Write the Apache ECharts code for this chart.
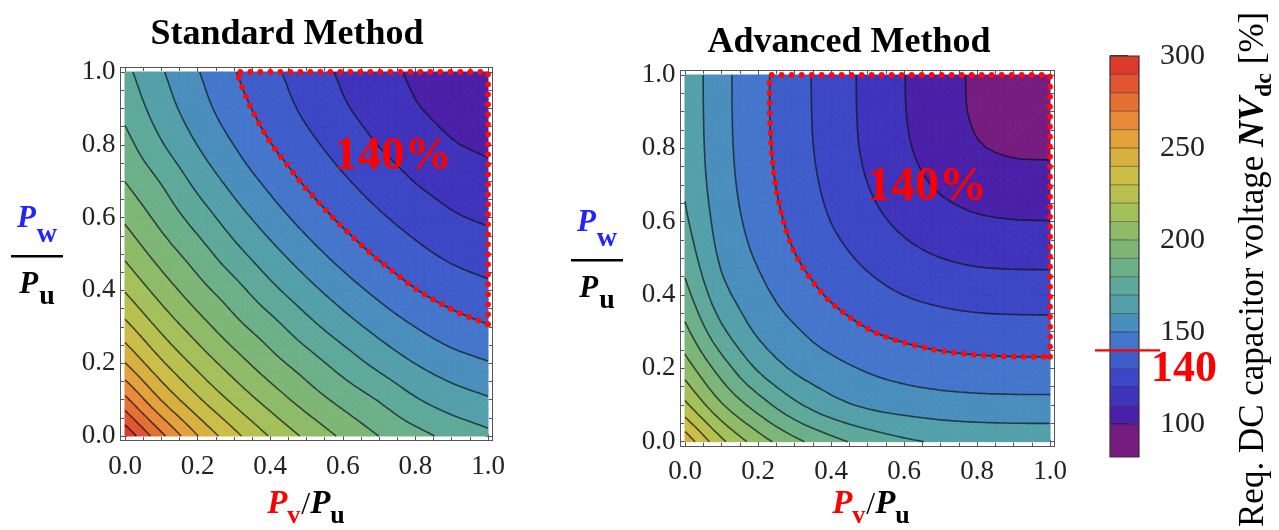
<!DOCTYPE html>
<html>
<head>
<meta charset="utf-8">
<title>Req. DC capacitor voltage</title>
<script src="https://cdn.jsdelivr.net/npm/echarts@6/dist/echarts.min.js"></script>
<style>
  html, body { margin: 0; padding: 0; background: #fff; }
  #chart { width: 1279px; height: 530px; }
</style>
</head>
<body>
<div id="chart"></div>
<script>
// grid of both maps: P_v/P_u along x, P_w/P_u along y
var gridSteps = [0, 0.1, 0.2, 0.3, 0.4, 0.5, 0.6, 0.7, 0.8, 0.9, 1];

// NV_dc [%], one row per P_w/P_u (0 -> 1), one column per P_v/P_u (0 -> 1)
var standardValues = [
  [298.0, 272.7, 250.3, 233.1, 219.3, 208.0, 198.3, 189.9, 183.4, 177.2, 172.5],
  [272.7, 249.5, 231.7, 217.6, 205.8, 195.6, 186.9, 179.3, 170.9, 165.0, 161.0],
  [250.3, 231.7, 217.0, 204.7, 194.0, 184.9, 175.7, 167.1, 159.8, 154.3, 150.6],
  [233.1, 217.6, 204.7, 193.4, 183.9, 173.6, 164.6, 156.7, 149.9, 144.3, 140.6],
  [219.3, 205.8, 194.0, 183.9, 172.9, 163.4, 154.9, 147.3, 140.4, 135.6, 132.4],
  [208.0, 195.6, 184.9, 173.6, 163.4, 154.3, 146.0, 138.5, 132.7, 128.0, 125.1],
  [198.3, 186.9, 175.7, 164.6, 154.9, 146.0, 137.9, 131.4, 125.9, 121.2, 118.5],
  [189.9, 179.3, 167.1, 156.7, 147.3, 138.5, 131.4, 125.2, 119.7, 115.8, 113.1],
  [183.4, 170.9, 159.8, 149.9, 140.4, 132.7, 125.9, 119.7, 115.0, 110.7, 108.4],
  [177.2, 165.0, 154.3, 144.3, 135.6, 128.0, 121.2, 115.8, 110.7, 107.2, 104.7],
  [172.5, 161.0, 150.6, 140.6, 132.4, 125.1, 118.5, 113.1, 108.4, 104.7, 101.0]
];

var advancedValues = [
  [247.0, 222.4, 205.3, 192.8, 183.5, 176.5, 171.7, 169.0, 167.8, 167.3, 167.2],
  [222.4, 201.1, 185.4, 172.3, 163.6, 158.4, 156.0, 154.4, 153.6, 153.3, 153.2],
  [205.3, 185.4, 168.8, 158.5, 153.2, 149.0, 146.2, 144.4, 143.4, 143.0, 143.0],
  [192.8, 172.3, 158.5, 151.3, 145.4, 140.6, 137.5, 135.5, 134.4, 134.0, 133.9],
  [183.5, 163.6, 153.2, 145.4, 138.8, 133.9, 129.9, 127.5, 126.1, 125.6, 125.5],
  [176.5, 158.4, 149.0, 140.6, 133.9, 128.0, 123.3, 120.1, 118.3, 117.7, 117.6],
  [171.7, 156.0, 146.2, 137.5, 129.9, 123.3, 117.9, 113.9, 111.4, 110.4, 110.2],
  [169.0, 154.4, 144.4, 135.5, 127.5, 120.1, 113.9, 108.8, 105.5, 104.1, 103.8],
  [167.8, 153.6, 143.4, 134.4, 126.1, 118.3, 111.4, 105.5, 100.8, 98.8, 98.5],
  [167.3, 153.3, 143.0, 134.0, 125.6, 117.7, 110.4, 104.1, 98.8, 95.7, 95.3],
  [167.2, 153.2, 143.0, 133.9, 125.5, 117.6, 110.2, 103.8, 98.5, 95.3, 94.0]
];

// contour levels, and band colours from the lowest band up
var levels = [100, 110, 120, 130, 140, 150, 160, 170, 180, 190, 200, 210, 220, 230, 240, 250, 260, 270, 280, 290];
var bandColors = [
  '#761c80', '#4a20a8', '#3f33bb', '#3d46c5', '#3e5dcb', '#4476cc', '#4a8ebd',
  '#53a0aa', '#5ea99a', '#6cb089', '#7db677', '#8fbb68', '#a3c05b', '#b8c04f',
  '#cbbd47', '#d8b040', '#e3a23c', '#e88a39', '#e57034', '#e15530', '#dc3a2a'
];
var colorbarRange = [82, 300];
var colorbarTicks = [100, 150, 200, 250, 300];
var limitLevel = 140;

var majorTicks = [0, 0.2, 0.4, 0.6, 0.8, 1];
var minorTicks = [0.05, 0.1, 0.15, 0.25, 0.3, 0.35, 0.45, 0.5, 0.55, 0.65, 0.7, 0.75, 0.85, 0.9, 0.95];

var SERIF = '"Liberation Serif", "DejaVu Serif", serif';
var frameColor = '#555';
var pad = 0.0125;  // plot range padding, like the Mathematica frames
var refine = 4;    // drawing sub-steps per grid step

// ---------- smooth drawing grid (Catmull-Rom between the read values) ----------
function catmull(p0, p1, p2, p3, t) {
  var t2 = t * t, t3 = t2 * t;
  return 0.5 * (2 * p1 + (p2 - p0) * t + (2 * p0 - 5 * p1 + 4 * p2 - p3) * t2 + (3 * p1 - p0 - 3 * p2 + p3) * t3);
}
function resample(arr, f) {
  var n = arr.length, out = [];
  function at(i) {
    if (i < 0) return 2 * arr[0] - arr[1];
    if (i >= n) return 2 * arr[n - 1] - arr[n - 2];
    return arr[i];
  }
  for (var i = 0; i < n - 1; i++) {
    for (var s = 0; s < f; s++) out.push(catmull(at(i - 1), at(i), at(i + 1), at(i + 2), s / f));
  }
  out.push(arr[n - 1]);
  return out;
}
function refineGrid(values, f) {
  var rows = values.map(function (r) { return resample(r, f); });
  var cols = rows[0].map(function (_, c) { return resample(rows.map(function (r) { return r[c]; }), f); });
  return cols[0].map(function (_, r) { return cols.map(function (col) { return col[r]; }); });
}

// ---------- contour geometry ----------
function nudge(z) {
  return levels.indexOf(z) >= 0 ? z + 1e-7 : z;
}
function cross(p, q, L) {
  if (p[2] > q[2]) { var t = p; p = q; q = t; } // identical point from both sides of an edge
  var s = (L - p[2]) / (q[2] - p[2]);
  return [p[0] + s * (q[0] - p[0]), p[1] + s * (q[1] - p[1]), L];
}
function clip(poly, L, keepAbove) {
  var out = [];
  for (var i = 0; i < poly.length; i++) {
    var a = poly[i], b = poly[(i + 1) % poly.length];
    var ina = keepAbove ? a[2] >= L : a[2] <= L;
    var inb = keepAbove ? b[2] >= L : b[2] <= L;
    if (ina) out.push(a);
    if (ina !== inb) out.push(cross(a, b, L));
  }
  return out;
}
function chainSegments(segs) {
  var key = function (p) { return Math.round(p[0] * 1e7) + '_' + Math.round(p[1] * 1e7); };
  var map = {}, used = [], lines = [];
  segs.forEach(function (s, k) {
    [0, 1].forEach(function (e) {
      var kk = key(s[e]);
      (map[kk] = map[kk] || []).push(k);
    });
  });
  function grow(line, atEnd) {
    while (true) {
      var p = atEnd ? line[line.length - 1] : line[0];
      var cand = (map[key(p)] || []).filter(function (k) { return !used[k]; });
      if (!cand.length) return;
      var s = segs[cand[0]];
      used[cand[0]] = true;
      var other = key(s[0]) === key(p) ? s[1] : s[0];
      if (atEnd) line.push(other); else line.unshift(other);
    }
  }
  for (var k = 0; k < segs.length; k++) {
    if (used[k]) continue;
    used[k] = true;
    var line = [segs[k][0], segs[k][1]];
    grow(line, true);
    grow(line, false);
    lines.push(line);
  }
  return lines;
}

function buildContours(values) {
  var z = refineGrid(values, refine);
  var steps = resample(gridSteps, refine);
  var n = steps.length, polys = [];
  var segs = levels.map(function () { return []; });
  var edges = [-Infinity].concat(levels, [Infinity]);
  function node(i, j) { return [steps[i], steps[j], nudge(z[j][i])]; }

  function addTriangle(tri) {
    var zs = tri.map(function (p) { return p[2]; });
    var lo = Math.min.apply(null, zs), hi = Math.max.apply(null, zs);
    for (var k = 0; k < bandColors.length; k++) {
      var bLo = edges[k], bHi = edges[k + 1];
      if (bLo >= hi || bHi <= lo) continue;
      var poly = tri;
      if (bLo > lo) poly = clip(poly, bLo, true);
      if (bHi < hi) poly = clip(poly, bHi, false);
      if (poly.length >= 3) polys.push({ pts: poly, color: bandColors[k] });
    }
    levels.forEach(function (L, li) {
      if (L <= lo || L >= hi) return;
      var pts = [];
      for (var e = 0; e < 3; e++) {
        var p = tri[e], q = tri[(e + 1) % 3];
        if ((p[2] - L) * (q[2] - L) < 0) pts.push(cross(p, q, L));
      }
      if (pts.length === 2) segs[li].push(pts);
    });
  }

  for (var j = 0; j < n - 1; j++) {
    for (var i = 0; i < n - 1; i++) {
      var a = node(i, j), b = node(i + 1, j), c = node(i + 1, j + 1), d = node(i, j + 1);
      var m = [(a[0] + b[0]) / 2, (a[1] + d[1]) / 2, nudge((a[2] + b[2] + c[2] + d[2]) / 4)];
      addTriangle([a, b, m]);
      addTriangle([b, c, m]);
      addTriangle([c, d, m]);
      addTriangle([d, a, m]);
    }
  }

  var lines = [], limit = [];
  levels.forEach(function (L, li) {
    var chains = chainSegments(segs[li]);
    chains.forEach(function (ch) { lines.push(ch); });
    if (L === limitLevel && chains.length) {
      var ch = chains.slice().sort(function (u, v) { return v.length - u.length; })[0];
      if (ch[0][1] < ch[ch.length - 1][1]) ch = ch.slice().reverse(); // start on the top edge
      limit = [ch[ch.length - 1], [1, 1]].concat(ch);
    }
  });
  return { polys: polys, lines: lines, limit: limit };
}

// round dots spaced evenly along a pixel path
function dotsAlong(pts, spacing, r, color) {
  var out = [], carry = 0;
  for (var i = 0; i < pts.length - 1; i++) {
    var a = pts[i], b = pts[i + 1];
    var dx = b[0] - a[0], dy = b[1] - a[1], len = Math.sqrt(dx * dx + dy * dy);
    if (!len) continue;
    var t = carry;
    while (t <= len) {
      out.push({ type: 'circle', shape: { cx: a[0] + dx * t / len, cy: a[1] + dy * t / len, r: r }, style: { fill: color } });
      t += spacing;
    }
    carry = t - len;
  }
  return out;
}

function contourSeries(values, axisIndex, tag) {
  var geo = buildContours(values);
  return {
    type: 'custom',
    xAxisIndex: axisIndex,
    yAxisIndex: axisIndex,
    silent: true,
    data: [[0, 0]],
    renderItem: function (params, api) {
      var toPx = function (p) { return api.coord([p[0], p[1]]); };
      var kids = [];
      geo.polys.forEach(function (p) {
        kids.push({
          type: 'polygon',
          shape: { points: p.pts.map(toPx) },
          style: { fill: p.color, stroke: p.color, lineWidth: 1 }
        });
      });
      geo.lines.forEach(function (ln) {
        kids.push({
          type: 'polyline',
          shape: { points: ln.map(toPx) },
          style: { fill: 'none', stroke: 'rgba(10,15,20,0.68)', lineWidth: 1.6 }
        });
      });
      kids = kids.concat(dotsAlong(geo.limit.map(toPx), 10, 2.9, '#ff0a0a'));
      var c = toPx(tag.pos);
      kids.push({
        type: 'text', x: c[0], y: c[1],
        style: { text: '140%', font: 'bold ' + tag.size + 'px ' + SERIF, fill: '#ff0000', align: 'center', verticalAlign: 'middle' }
      });
      return { type: 'group', children: kids };
    }
  };
}

// ---------- frame axes ----------
function fmt(v) { return v.toFixed(1); }

function frameAxis(gridIndex, position, ticks, len, labels, margin) {
  return {
    type: 'value', gridIndex: gridIndex, position: position,
    min: -pad, max: 1 + pad,
    axisLine: { show: true, onZero: false, lineStyle: { color: frameColor, width: 1 } },
    axisTick: { show: true, inside: true, length: len, customValues: ticks, lineStyle: { color: frameColor, width: 1 } },
    axisLabel: {
      show: labels, customValues: majorTicks, formatter: fmt, margin: margin,
      color: '#222', fontFamily: SERIF, fontSize: 27
    },
    splitLine: { show: false }
  };
}

function frameAxes(gridIndex, lowSide, highSide, margin) {
  return [
    frameAxis(gridIndex, lowSide, majorTicks, 6.5, true, margin),
    frameAxis(gridIndex, lowSide, minorTicks, 3.5, false, margin),
    frameAxis(gridIndex, highSide, majorTicks, 6.5, false, margin),
    frameAxis(gridIndex, highSide, minorTicks, 3.5, false, margin)
  ];
}

// ---------- text helpers ----------
var measureCtx = document.createElement('canvas').getContext('2d');
function runFont(r) {
  return (r.italic ? 'italic ' : '') + (r.bold ? 'bold ' : '') + r.size + 'px ' + SERIF;
}
function runWidth(r) {
  measureCtx.font = runFont(r);
  return measureCtx.measureText(r.text).width;
}
// runs on one baseline, local coords starting at x = 0
function layRuns(runs) {
  var x = 0, out = [];
  runs.forEach(function (r) {
    out.push({
      type: 'text', x: x, y: (r.dy || 0) - 0.34 * r.size,
      style: { text: r.text, font: runFont(r), fill: r.fill || '#000', verticalAlign: 'middle' }
    });
    x += runWidth(r) + (r.gap || 0);
  });
  return { items: out, width: x };
}
function runGroup(runs, cx, baseline) {
  var laid = layRuns(runs);
  return { type: 'group', x: cx - laid.width / 2, y: baseline, children: laid.items };
}

function yFraction(cx, top, colorTop) {
  var num = [
    { text: 'P', size: 31, bold: true, italic: true, fill: colorTop, gap: 1 },
    { text: 'w', size: 28, bold: true, fill: colorTop, dy: 14 }
  ];
  var den = [
    { text: 'P', size: 31, bold: true, italic: true, gap: 1 },
    { text: 'u', size: 28, bold: true, dy: 10 }
  ];
  return [
    runGroup(num, cx, top + 20),
    { type: 'rect', shape: { x: cx - 26, y: top + 45, width: 52, height: 2.6 }, style: { fill: '#000' } },
    runGroup(den, cx, top + 86)
  ];
}

function xRatio(cx, baseline) {
  return runGroup([
    { text: 'P', size: 33, bold: true, italic: true, fill: '#ff0000' },
    { text: 'v', size: 26, bold: true, fill: '#ff0000', dy: 9, gap: 1 },
    { text: '/', size: 32 },
    { text: 'P', size: 33, bold: true, italic: true },
    { text: 'u', size: 26, bold: true, dy: 9 }
  ], cx, baseline);
}

// ---------- layout ----------
function boxGrid(x0, x1, y1, y0) {
  return {
    left: x0 - pad * (x1 - x0), width: (x1 - x0) * (1 + 2 * pad),
    top: y1 - pad * (y0 - y1), height: (y0 - y1) * (1 + 2 * pad)
  };
}

var chart = echarts.init(document.getElementById('chart'));

var colorbarSeries = {
  type: 'custom', xAxisIndex: 8, yAxisIndex: 8, silent: true,
  data: [[0, 0]],
  renderItem: function (params, api) {
    var edges = [colorbarRange[0]].concat(levels, [colorbarRange[1]]);
    var kids = [];
    for (var k = 0; k < bandColors.length; k++) {
      var p1 = api.coord([0, edges[k + 1]]), p2 = api.coord([1, edges[k]]);
      kids.push({ type: 'rect', shape: { x: p1[0], y: p1[1], width: p2[0] - p1[0], height: p2[1] - p1[1] }, style: { fill: bandColors[k] } });
    }
    levels.forEach(function (L) {
      var a = api.coord([0, L]), b = api.coord([1, L]);
      kids.push({ type: 'line', shape: { x1: a[0], y1: a[1], x2: b[0], y2: b[1] }, style: { stroke: 'rgba(0,0,0,0.4)', lineWidth: 1 } });
    });
    var tl = api.coord([0, colorbarRange[1]]), br = api.coord([1, colorbarRange[0]]);
    kids.push({ type: 'rect', shape: { x: tl[0], y: tl[1], width: br[0] - tl[0], height: br[1] - tl[1] }, style: { fill: 'none', stroke: '#333', lineWidth: 1.2 } });
    var r1 = api.coord([0, limitLevel]), r2 = api.coord([1, limitLevel]);
    kids.push({ type: 'line', shape: { x1: r1[0] - 15, y1: r1[1], x2: r2[0] + 21, y2: r2[1] }, style: { stroke: '#ff0000', lineWidth: 2.2 } });
    kids.push({
      type: 'text', x: r2[0] + 12, y: r1[1] + 19,
      style: { text: String(limitLevel), font: 'bold 44px ' + SERIF, fill: '#ff0000', verticalAlign: 'middle' }
    });
    return { type: 'group', children: kids };
  }
};

var rightTitle = layRuns([
  { text: 'Req. DC capacitor voltage ', size: 35 },
  { text: 'NV', size: 36, bold: true, italic: true },
  { text: 'dc', size: 24, bold: true, dy: 7 },
  { text: ' [%]', size: 35 }
]);

var option = {
  animation: false,
  grid: [
    boxGrid(125, 488, 72, 436),
    boxGrid(685, 1050, 75, 441.7),
    { left: 1110, top: 56, width: 29, height: 401 }
  ],
  xAxis: frameAxes(0, 'bottom', 'top', 13).concat(frameAxes(1, 'bottom', 'top', 12), [
    { type: 'value', gridIndex: 2, min: 0, max: 1, show: false }
  ]),
  yAxis: frameAxes(0, 'left', 'right', 5).concat(frameAxes(1, 'left', 'right', 5), [{
    type: 'value', gridIndex: 2, position: 'right', min: colorbarRange[0], max: colorbarRange[1],
    axisLine: { show: false },
    axisTick: { show: true, inside: false, length: 18, customValues: colorbarTicks, lineStyle: { color: '#000', width: 1.5 } },
    axisLabel: { customValues: colorbarTicks, margin: 21, color: '#222', fontFamily: SERIF, fontSize: 30 },
    splitLine: { show: false }
  }]),
  series: [
    contourSeries(standardValues, 0, { pos: [0.738, 0.766], size: 47 }),
    contourSeries(advancedValues, 4, { pos: [0.663, 0.692], size: 48 }),
    colorbarSeries
  ],
  graphic: {
    elements: [
      { type: 'text', x: 287, y: 35, style: { text: 'Standard Method', font: 'bold 36px ' + SERIF, fill: '#000', align: 'center', verticalAlign: 'middle' } },
      { type: 'text', x: 849, y: 43, style: { text: 'Advanced Method', font: 'bold 36px ' + SERIF, fill: '#000', align: 'center', verticalAlign: 'middle' } },
      xRatio(306, 516),
      xRatio(871, 516),
      { type: 'group', x: 1266, y: 527, rotation: Math.PI / 2, children: rightTitle.items }
    ].concat(yFraction(37, 210, '#2323ff'), yFraction(597, 214, '#2323ff'))
  }
};

chart.setOption(option);
</script>
</body>
</html>
